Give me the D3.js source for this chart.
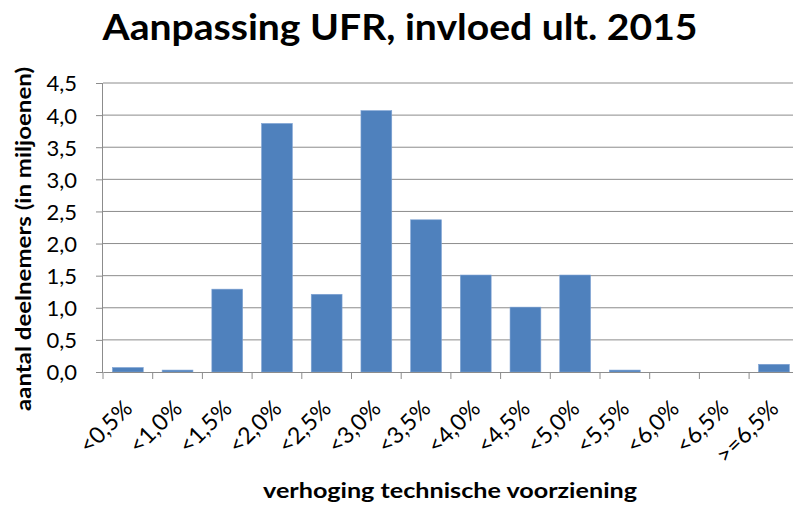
<!DOCTYPE html>
<html>
<head>
<meta charset="utf-8">
<script src="https://cdn.jsdelivr.net/npm/d3@7"></script>
<style>
  body { margin: 0; background: #fff; }
  text { font-family: Lato, "Open Sans", sans-serif; fill: #000; }
</style>
</head>
<body>
<div id="canvas"></div>
<script>
const categories = ["<0,5%", "<1,0%", "<1,5%", "<2,0%", "<2,5%", "<3,0%", "<3,5%",
  "<4,0%", "<4,5%", "<5,0%", "<5,5%", "<6,0%", "<6,5%", ">=6,5%"];
const values = [0.07, 0.03, 1.29, 3.87, 1.21, 4.07, 2.37, 1.51, 1.01, 1.51, 0.03, 0, 0, 0.12];
const yTicks = [0, 0.5, 1, 1.5, 2, 2.5, 3, 3.5, 4, 4.5];

const margin = { top: 83, left: 103, bottom: 136 };
const W = 793, H = 508;
const plotW = 49.7 * categories.length;
const plotH = H - margin.top - margin.bottom;

const svg = d3.select("#canvas").append("svg")
  .attr("width", W).attr("height", H);

const g = svg.append("g")
  .attr("transform", `translate(${margin.left}, ${margin.top})`);

const x = d3.scaleBand()
  .domain(categories)
  .range([0, plotW])
  .paddingInner(0.38)
  .paddingOuter(0.19);

const y = d3.scaleLinear()
  .domain([0, 4.5])
  .range([plotH, 0]);

const fmt = d => d.toFixed(1).replace(".", ",");

// gridlines
g.append("g")
  .selectAll("line")
  .data(yTicks.filter(d => d > 0))
  .enter().append("line")
    .attr("x1", 0).attr("x2", plotW)
    .attr("y1", d => y(d)).attr("y2", d => y(d))
    .style("stroke", "#8c8c8c")
    .style("stroke-width", 1);

// bars
g.selectAll(".bar")
  .data(values)
  .enter().append("rect")
    .attr("class", "bar")
    .attr("x", (d, i) => x(categories[i]))
    .attr("width", x.bandwidth())
    .attr("y", d => y(d))
    .attr("height", d => plotH - y(d))
    .style("fill", "#4f81bd")
    .style("stroke", "#7fa3d4")
    .style("stroke-width", 0.6);

// y axis
const yAxis = g.append("g")
  .call(d3.axisLeft(y).tickValues(yTicks).tickFormat(fmt).tickSize(7).tickPadding(19));
yAxis.select(".domain").style("stroke", "#8c8c8c").attr("d", `M-0.5,${plotH}V0`);
yAxis.selectAll(".tick line").style("stroke", "#8c8c8c");
yAxis.selectAll("text")
  .style("font-size", "22px")
  .style("font-family", "Lato, sans-serif")
  .attr("dy", "0.36em");

// x axis baseline
const xAxis = g.append("g")
  .attr("transform", `translate(0, ${plotH})`)
  .call(d3.axisBottom(x).tickSize(0).tickFormat(""));
xAxis.select(".domain").style("stroke", "#8c8c8c");
xAxis.selectAll(".tick").remove();

// x ticks at band boundaries
g.append("g")
  .selectAll("line")
  .data(d3.range(categories.length + 1))
  .enter().append("line")
    .attr("x1", i => i * x.step()).attr("x2", i => i * x.step())
    .attr("y1", plotH).attr("y2", plotH + 7)
    .style("stroke", "#8c8c8c");

// x labels rotated
g.append("g")
  .selectAll("text")
  .data(categories)
  .enter().append("text")
    .attr("transform", d => `translate(${x(d) + x.bandwidth() / 2 + 6}, ${plotH + 38}) rotate(-45)`)
    .attr("text-anchor", "end")
    .style("font-size", "23px")
    .text(d => d);

// title
svg.append("text")
  .attr("x", 400).attr("y", 40)
  .attr("text-anchor", "middle")
  .attr("textLength", 595)
  .attr("lengthAdjust", "spacingAndGlyphs")
  .style("font-size", "37px")
  .style("font-weight", "bold")
  .text("Aanpassing UFR, invloed ult. 2015");

// axis titles
svg.append("text")
  .attr("x", 450).attr("y", 498)
  .attr("text-anchor", "middle")
  .attr("textLength", 374)
  .attr("lengthAdjust", "spacingAndGlyphs")
  .style("font-size", "21px")
  .style("font-weight", "bold")
  .text("verhoging technische voorziening");

svg.append("text")
  .attr("transform", "translate(31, 239) rotate(-90)")
  .attr("text-anchor", "middle")
  .attr("textLength", 344)
  .attr("lengthAdjust", "spacingAndGlyphs")
  .style("font-size", "21px")
  .style("font-weight", "bold")
  .text("aantal deelnemers (in miljoenen)");
</script>
</body>
</html>
